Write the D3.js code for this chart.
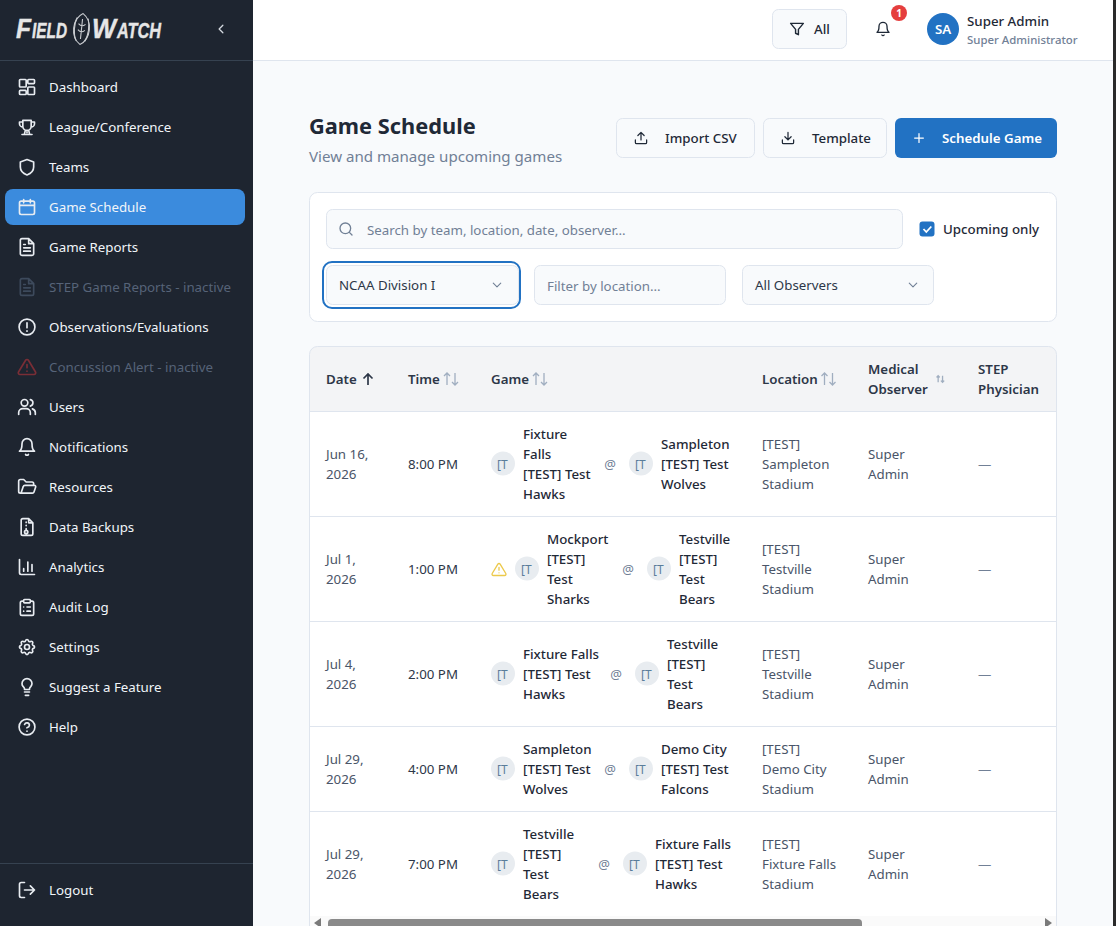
<!DOCTYPE html>
<html>
<head>
<meta charset="utf-8">
<title>Game Schedule</title>
<script src="https://cdn.jsdelivr.net/npm/d3@7/dist/d3.min.js"></script>
<style>
  html, body { margin: 0; padding: 0; background: #f8fafc; overflow: hidden; }
  svg { display: block; font-family: "Noto Sans", "Open Sans", sans-serif; }
</style>
</head>
<body>
<svg id="page" width="1116" height="926"></svg>
<script>
// Sidebar entries.
var navLabels = ["Dashboard", "League/Conference", "Teams", "Game Schedule", "Game Reports",
  "STEP Game Reports - inactive", "Observations/Evaluations", "Concussion Alert - inactive",
  "Users", "Notifications", "Resources", "Data Backups", "Analytics", "Audit Log",
  "Settings", "Suggest a Feature", "Help"];
var navIcons = ["grid", "trophy", "shield", "calendar", "report", "report", "alert", "warn",
  "users", "bell", "folder", "backup", "chart", "clipboard", "gear", "bulb", "help"];
var navActive = "Game Schedule";
var navInactive = ["STEP Game Reports - inactive", "Concussion Alert - inactive"];

// Table contents.
var columnTitles = [["Date"], ["Time"], ["Game"], ["Location"], ["Medical", "Observer"], ["STEP", "Physician"]];
var gameDates = [["Jun 16,", "2026"], ["Jul 1,", "2026"], ["Jul 4,", "2026"], ["Jul 29,", "2026"], ["Jul 29,", "2026"]];
var gameTimes = ["8:00 PM", "1:00 PM", "2:00 PM", "4:00 PM", "7:00 PM"];
var awayTeams = [["Fixture", "Falls", "[TEST] Test", "Hawks"], ["Mockport", "[TEST]", "Test", "Sharks"],
  ["Fixture Falls", "[TEST] Test", "Hawks"], ["Sampleton", "[TEST] Test", "Wolves"], ["Testville", "[TEST]", "Test", "Bears"]];
var homeTeams = [["Sampleton", "[TEST] Test", "Wolves"], ["Testville", "[TEST]", "Test", "Bears"],
  ["Testville", "[TEST]", "Test", "Bears"], ["Demo City", "[TEST] Test", "Falcons"], ["Fixture Falls", "[TEST] Test", "Hawks"]];
var awayBadgeX = [503, 527, 503, 503, 503];
var atSignX = [610, 628, 616, 610, 604];
var homeBadgeX = [641, 659, 647, 641, 635];
var gameLocations = [["[TEST]", "Sampleton", "Stadium"], ["[TEST]", "Testville", "Stadium"],
  ["[TEST]", "Testville", "Stadium"], ["[TEST]", "Demo City", "Stadium"], ["[TEST]", "Fixture Falls", "Stadium"]];
var gameObservers = [["Super", "Admin"], ["Super", "Admin"], ["Super", "Admin"], ["Super", "Admin"], ["Super", "Admin"]];
var gamePhysicians = ["—", "—", "—", "—", "—"];
var gameWarnings = [false, true, false, false, false];
var rowLines = [4, 4, 4, 3, 4];

// Configuration.
var sidebarColor = "#1e2530",
    activeColor = "#3b8bdd",
    blue = "#2272c3",
    borderColor = "#dfe5ee",
    textDark = "#1f2937",
    textMuted = "#718096",
    bodySize = 13.3,
    lineHeight = 20;

// 24x24 outline icons.
var iconPaths = {
  grid: "M4 3h6a1 1 0 0 1 1 1v7a1 1 0 0 1-1 1H4a1 1 0 0 1-1-1V4a1 1 0 0 1 1-1zM14 3h6a1 1 0 0 1 1 1v3a1 1 0 0 1-1 1h-6a1 1 0 0 1-1-1V4a1 1 0 0 1 1-1zM14 12h6a1 1 0 0 1 1 1v7a1 1 0 0 1-1 1h-6a1 1 0 0 1-1-1v-7a1 1 0 0 1 1-1zM4 16h6a1 1 0 0 1 1 1v3a1 1 0 0 1-1 1H4a1 1 0 0 1-1-1v-3a1 1 0 0 1 1-1z",
  trophy: "M7 4h10v7a5 5 0 0 1-10 0zM7 6H3v2a4 4 0 0 0 4 4M17 6h4v2a4 4 0 0 1-4 4M12 16v3M10 16l-1 4M14 16l1 4M6 21h12",
  shield: "M12 3l8 3v6c0 5-3.500 7.800-8 9.500C7.500 19.800 4 17 4 12V6z",
  calendar: "M5 5h14a2 2 0 0 1 2 2v12a2 2 0 0 1-2 2H5a2 2 0 0 1-2-2V7a2 2 0 0 1 2-2zM8 3v4M16 3v4M3 10h18",
  report: "M14 2H6a2 2 0 0 0-2 2v16a2 2 0 0 0 2 2h12a2 2 0 0 0 2-2V8zM14 2v6h6M8 13h8M8 17h8M8 9h2",
  alert: "M12 2.500a9.500 9.500 0 1 0 0 19a9.500 9.500 0 0 0 0-19zM12 7v6M12 16.500v.5",
  warn: "M10.300 3.900L1.800 18a2 2 0 0 0 1.700 3h17a2 2 0 0 0 1.700-3L13.700 3.900a2 2 0 0 0-3.400 0zM12 9v4M12 17h.01",
  users: "M9 3a4 4 0 1 0 0 8a4 4 0 0 0 0-8zM2 21v-2a5 5 0 0 1 5-5h4a5 5 0 0 1 5 5v2M16 3.100a4 4 0 0 1 0 7.800M22 21v-2a5 5 0 0 0-3.500-4.800",
  bell: "M6 8a6 6 0 0 1 12 0c0 7 3 9 3 9H3s3-2 3-9M10.300 21a2 2 0 0 0 3.400 0",
  folder: "M5 19l2.500-7.500A2 2 0 0 1 9.400 10H21a1.500 1.500 0 0 1 1.400 2l-2 6a2 2 0 0 1-1.900 1.400H4a2 2 0 0 1-2-2V5a2 2 0 0 1 2-2h4l3 3h7a2 2 0 0 1 2 2v2",
  backup: "M14 2H7a2 2 0 0 0-2 2v16a2 2 0 0 0 2 2h10a2 2 0 0 0 2-2V7zM14 2v5h5M11 6v.5M11 10v.5M11 14v2M11 16a2 2 0 1 0 0 4a2 2 0 0 0 0-4z",
  chart: "M3 3v16a2 2 0 0 0 2 2h16M8 17v-3M13 17V6M18 17V9",
  clipboard: "M9 3h6a1 1 0 0 1 1 1v2a1 1 0 0 1-1 1H9a1 1 0 0 1-1-1V4a1 1 0 0 1 1-1zM8 5H6a2 2 0 0 0-2 2v13a2 2 0 0 0 2 2h12a2 2 0 0 0 2-2V7a2 2 0 0 0-2-2h-2M8 12h.01M12 12h4M8 17h.01M12 17h4",
  gear: "M10.300 4.300c.4-1.800 3-1.800 3.400 0a1.700 1.700 0 0 0 2.600 1.100c1.500-.9 3.300.8 2.400 2.400a1.700 1.700 0 0 0 1 2.500c1.800.4 1.800 3 0 3.400a1.700 1.700 0 0 0-1 2.600c.9 1.500-.9 3.300-2.400 2.400a1.700 1.700 0 0 0-2.600 1c-.4 1.800-3 1.800-3.400 0a1.700 1.700 0 0 0-2.600-1c-1.500.9-3.300-.9-2.400-2.400a1.700 1.700 0 0 0-1-2.600c-1.800-.4-1.800-3 0-3.400a1.700 1.700 0 0 0 1-2.500c-.9-1.600.9-3.300 2.400-2.400a1.700 1.700 0 0 0 2.600-1.100zM12 9a3 3 0 1 0 0 6a3 3 0 0 0 0-6z",
  bulb: "M9 18h6M10 22h4M15 14c.2-1 .7-1.700 1.500-2.500A6 6 0 0 0 18 8a6 6 0 0 0-12 0c0 1 .2 2.200 1.500 3.500c.7.7 1.300 1.500 1.500 2.500v1h6z",
  help: "M12 2.500a9.500 9.500 0 1 0 0 19a9.500 9.500 0 0 0 0-19zM9.100 9a3 3 0 0 1 5.800 1c0 2-3 3-3 3M12 17h.01",
  logout: "M9 21H5a2 2 0 0 1-2-2V5a2 2 0 0 1 2-2h4M16 17l5-5l-5-5M21 12H9",
  filter: "M3 4h18l-7 8.500V20l-4-2v-5.500z",
  search: "M11 3a8 8 0 1 0 0 16a8 8 0 0 0 0-16zM21 21l-4.300-4.300",
  upload: "M21 15v4a2 2 0 0 1-2 2H5a2 2 0 0 1-2-2v-4M17 8l-5-5l-5 5M12 3v12",
  download: "M21 15v4a2 2 0 0 1-2 2H5a2 2 0 0 1-2-2v-4M7 10l5 5l5-5M12 15V3",
  plus: "M5 12h14M12 5v14",
  chevronDown: "M6 9l6 6l6-6",
  chevronLeft: "M15 6l-6 6l6 6"
};

var svg = d3.select("#page");

// Draws an outline icon centred on (cx, cy) at the given size.
function icon(parent, name, cx, cy, size, color, width) {
  var k = size / 24;
  return parent.append("path")
    .attr("d", iconPaths[name])
    .attr("transform", "translate(" + (cx - size / 2) + "," + (cy - size / 2) + ") scale(" + k + ")")
    .attr("fill", "none")
    .attr("stroke", color)
    .attr("stroke-width", width || 2)
    .attr("stroke-linecap", "round")
    .attr("stroke-linejoin", "round");
}

// Draws a box with a border.
function box(parent, x, y, w, h, r, fill, stroke) {
  return parent.append("rect")
    .attr("x", x + 0.5).attr("y", y + 0.5)
    .attr("width", w - 1).attr("height", h - 1)
    .attr("rx", r)
    .attr("fill", fill)
    .attr("stroke", stroke || "none");
}

// Draws a single line of text, vertically centred on y.
function label(parent, text, x, y, size, color, weight, anchor) {
  return parent.append("text")
    .attr("x", x).attr("y", y)
    .attr("dy", "0.35em")
    .attr("font-size", size)
    .attr("font-weight", weight || 400)
    .attr("fill", color)
    .attr("text-anchor", anchor || "start")
    .text(text);
}

// Draws a block of text lines centred on y.
function block(parent, lines, x, y, size, color, weight) {
  lines.forEach(function (line, i) {
    label(parent, line, x, y + (i - (lines.length - 1) / 2) * lineHeight, size, color, weight);
  });
}

// ---- Page background and sidebar ----
svg.append("rect").attr("width", 1116).attr("height", 926).attr("fill", "#f8fafc");
svg.append("rect").attr("width", 253).attr("height", 926).attr("fill", sidebarColor);
svg.append("rect").attr("y", 60).attr("width", 253).attr("height", 1).attr("fill", "#364250");
svg.append("rect").attr("y", 863).attr("width", 253).attr("height", 1).attr("fill", "#364250");

// Logo: small caps italic words either side of a football.
function logoPart(x, text, size, width) {
  svg.append("text").attr("x", x).attr("y", 38).attr("fill", "#e6e6e6")
    .attr("font-family", "'Liberation Sans', Arial, sans-serif")
    .attr("font-weight", 700).attr("font-style", "italic")
    .attr("stroke", "#e6e6e6").attr("stroke-width", 0.4)
    .attr("font-size", size)
    .attr("textLength", width).attr("lengthAdjust", "spacingAndGlyphs")
    .text(text);
}
logoPart(16, "F", 28, 15);
logoPart(32, "IELD", 22.5, 35);
logoPart(92, "W", 28, 24);
logoPart(117, "ATCH", 22.5, 44);
var ball = svg.append("g").attr("transform", "rotate(6 81.500 29)")
  .attr("fill", "none").attr("stroke", "#c9ccd0").attr("stroke-width", 1.1);
ball.append("path").attr("d", "M81.500 13.500C71 20 71 38 81.500 44.500C92 38 92 20 81.500 13.500z");
ball.append("path").attr("d", "M76 18C73.500 25 74 35 77 41M87 18C89.500 25 89 35 86 41");
ball.append("path").attr("d", "M81.500 19v20M78 24c2.500 2.500 4.500 2.500 7 0M78 30c2.500 2.500 4.500 2.500 7 0");
icon(svg, "chevronLeft", 221, 29, 15, "#d5dae0", 2);

// Navigation items, one row per 40px.
var navY = d3.scalePoint().domain(navLabels).range([87, 727]);

svg.append("rect")
  .attr("x", 5).attr("y", navY(navActive) - 18)
  .attr("width", 240).attr("height", 36).attr("rx", 8)
  .attr("fill", activeColor);

navLabels.forEach(function (name, i) {
  var off = navInactive.indexOf(name) >= 0,
      y = navY(name),
      iconColor = off ? (navIcons[i] === "warn" ? "#7a2e36" : "#3d4a5c") : "#e8ecf1",
      textColor = off ? "#566378" : "#f1f5f9";
  icon(svg, navIcons[i], 27, y, 20, iconColor, 2);
  label(svg, name, 49, y, bodySize, textColor);
});

icon(svg, "logout", 27, 890, 20, "#e8ecf1", 2);
label(svg, "Logout", 49, 890, bodySize, "#f1f5f9");

// ---- Top bar ----
svg.append("rect").attr("x", 253).attr("width", 863).attr("height", 60).attr("fill", "#ffffff");
svg.append("rect").attr("x", 253).attr("y", 60).attr("width", 863).attr("height", 1).attr("fill", borderColor);

box(svg, 772, 9, 75, 40, 6, "#f8fafc", borderColor);
icon(svg, "filter", 797, 29, 17, textDark, 2);
label(svg, "All", 814, 29, bodySize, textDark, 500);

icon(svg, "bell", 883, 29, 16, textDark, 2);
svg.append("circle").attr("cx", 899).attr("cy", 13).attr("r", 8).attr("fill", "#e53e3e");
label(svg, "1", 899, 13, 10, "#ffffff", 700, "middle");

svg.append("circle").attr("cx", 943).attr("cy", 29).attr("r", 16).attr("fill", blue);
label(svg, "SA", 943, 29, bodySize, "#ffffff", 600, "middle");
label(svg, "Super Admin", 967, 21, bodySize, textDark, 500);
label(svg, "Super Administrator", 967, 40, 11.4, textMuted, 500);

// ---- Title and buttons ----
label(svg, "Game Schedule", 309, 126, 21.8, textDark, 700);
label(svg, "View and manage upcoming games", 309, 157, 15.1, textMuted);

box(svg, 616, 118, 139, 40, 6, "#f8fafc", borderColor);
icon(svg, "upload", 641, 138, 15, textDark, 2);
label(svg, "Import CSV", 665, 138, bodySize, textDark, 500);

box(svg, 763, 118, 124, 40, 6, "#f8fafc", borderColor);
icon(svg, "download", 788, 138, 15, textDark, 2);
label(svg, "Template", 812, 138, bodySize, textDark, 500);

svg.append("rect").attr("x", 895).attr("y", 118).attr("width", 162).attr("height", 40).attr("rx", 6).attr("fill", blue);
icon(svg, "plus", 919, 138, 15, "#ffffff", 2);
label(svg, "Schedule Game", 942, 138, bodySize, "#ffffff", 600);

// ---- Filter card ----
box(svg, 309, 192, 748, 130, 8, "#ffffff", borderColor);

box(svg, 326, 209, 577, 40, 6, "#f8fafc", borderColor);
icon(svg, "search", 346, 229, 16, textMuted, 2);
label(svg, "Search by team, location, date, observer...", 367, 230, bodySize, textMuted);

svg.append("rect").attr("x", 919.5).attr("y", 221.5).attr("width", 15).attr("height", 15).attr("rx", 3).attr("fill", blue);
svg.append("path").attr("d", "M923.500 229l2.800 3l5-5.500").attr("fill", "none").attr("stroke", "#ffffff").attr("stroke-width", 1.8);
label(svg, "Upcoming only", 943, 229, bodySize, textDark, 500);

svg.append("rect").attr("x", 323).attr("y", 262).attr("width", 197).attr("height", 46).attr("rx", 9)
  .attr("fill", "none").attr("stroke", blue).attr("stroke-width", 2);
box(svg, 326, 265, 193, 40, 6, "#f8fafc", borderColor);
label(svg, "NCAA Division I", 339, 285, bodySize, "#2d3748");
icon(svg, "chevronDown", 497, 285, 15, textMuted, 1.8);

box(svg, 534, 265, 192, 40, 6, "#f8fafc", borderColor);
label(svg, "Filter by location...", 547, 286, bodySize, textMuted);

box(svg, 742, 265, 192, 40, 6, "#f8fafc", borderColor);
label(svg, "All Observers", 755, 285, bodySize, "#2d3748");
icon(svg, "chevronDown", 913, 285, 15, textMuted, 1.8);

// ---- Table ----
var tableClipId = "table-clip";
svg.append("defs").append("clipPath").attr("id", tableClipId)
  .append("rect").attr("x", 309.5).attr("y", 346.5).attr("width", 747).attr("height", 620).attr("rx", 8);

var table = svg.append("g").attr("clip-path", "url(#" + tableClipId + ")");
table.append("rect").attr("x", 309).attr("y", 346).attr("width", 748).attr("height", 580).attr("fill", "#ffffff");
table.append("rect").attr("x", 309).attr("y", 346).attr("width", 748).attr("height", 65).attr("fill", "#f3f4f6");
svg.append("path")
  .attr("d", "M309.500 926V354.500a8 8 0 0 1 8-8H1048.500a8 8 0 0 1 8 8V926")
  .attr("fill", "none").attr("stroke", borderColor);
table.append("rect").attr("x", 309).attr("y", 411).attr("width", 748).attr("height", 1).attr("fill", borderColor);

// Sort arrows next to a header label.
function sortArrows(parent, x, y, color, k) {
  parent.append("path")
    .attr("d", "M3 6V-6M0 -3L3 -6L6 -3M11 -6V6M8 3L11 6L14 3")
    .attr("transform", "translate(" + x + "," + y + ") scale(" + k + ")")
    .attr("fill", "none").attr("stroke", color).attr("stroke-width", 1.3 / k);
}

var headerX = [326, 408, 491, 762, 868, 978];
var headerY = 379;
columnTitles.forEach(function (lines, i) {
  block(table, lines, headerX[i], headerY, bodySize, "#2d3748", 600);
});
table.append("path").attr("d", "M368 385V374M363.500 378.500L368 374L372.500 378.500")
  .attr("fill", "none").attr("stroke", "#2d3748").attr("stroke-width", 1.7);
sortArrows(table, 444, 379, "#a0aec0", 1);
sortArrows(table, 533, 379, "#a0aec0", 1);
sortArrows(table, 821.5, 379, "#a0aec0", 1);
sortArrows(table, 936.5, 379, "#a0aec0", 0.55);

// Rows: a taller row holds four text lines, a shorter one three.
var rowHeight = d3.scaleOrdinal().domain([3, 4]).range([85, 105]);
var rowTop = 412;

gameDates.forEach(function (date, i) {
  var h = rowHeight(rowLines[i]),
      cy = rowTop + (h - 1) / 2 + 0.5,
      row = table.append("g");

  block(row, date, headerX[0], cy, bodySize, "#4a5568");
  label(row, gameTimes[i], headerX[1], cy, bodySize, "#2d3748");

  if (gameWarnings[i]) icon(row, "warn", 499, cy, 16, "#ecc94b", 2);

  row.append("circle").attr("cx", awayBadgeX[i]).attr("cy", cy - 1).attr("r", 12).attr("fill", "#e8ecf0");
  label(row, "[T", awayBadgeX[i] - 6, cy, 12, "#5a7d9a", 400);
  block(row, awayTeams[i], awayBadgeX[i] + 20, cy, bodySize, textDark, 500);

  label(row, "@", atSignX[i], cy, 13, textMuted, 400, "middle");

  row.append("circle").attr("cx", homeBadgeX[i]).attr("cy", cy - 1).attr("r", 12).attr("fill", "#e8ecf0");
  label(row, "[T", homeBadgeX[i] - 6, cy, 12, "#5a7d9a", 400);
  block(row, homeTeams[i], homeBadgeX[i] + 20, cy, bodySize, textDark, 500);

  block(row, gameLocations[i], headerX[3], cy, bodySize, "#4a5568");
  block(row, gameObservers[i], headerX[4], cy, bodySize, "#4a5568");
  label(row, gamePhysicians[i], headerX[5], cy, bodySize, "#718096");

  rowTop += h;
  if (i < gameDates.length - 1) {
    table.append("rect").attr("x", 309).attr("y", rowTop - 1).attr("width", 748).attr("height", 1).attr("fill", borderColor);
  }
});

// Horizontal scrollbar of the table.
table.append("rect").attr("x", 310).attr("y", 916).attr("width", 746).attr("height", 10).attr("fill", "#fafafa");
table.append("path").attr("d", "M321 918v10l-7-5z").attr("fill", "#7a7a7a");
table.append("path").attr("d", "M1045 918v10l7-5z").attr("fill", "#7a7a7a");
table.append("rect").attr("x", 328).attr("y", 919).attr("width", 534).attr("height", 10).attr("rx", 4).attr("fill", "#8a8a8a");

// Window edge on the right.
svg.append("rect").attr("x", 1113).attr("width", 3).attr("height", 926).attr("fill", "#2a2a2a");
</script>
</body>
</html>
